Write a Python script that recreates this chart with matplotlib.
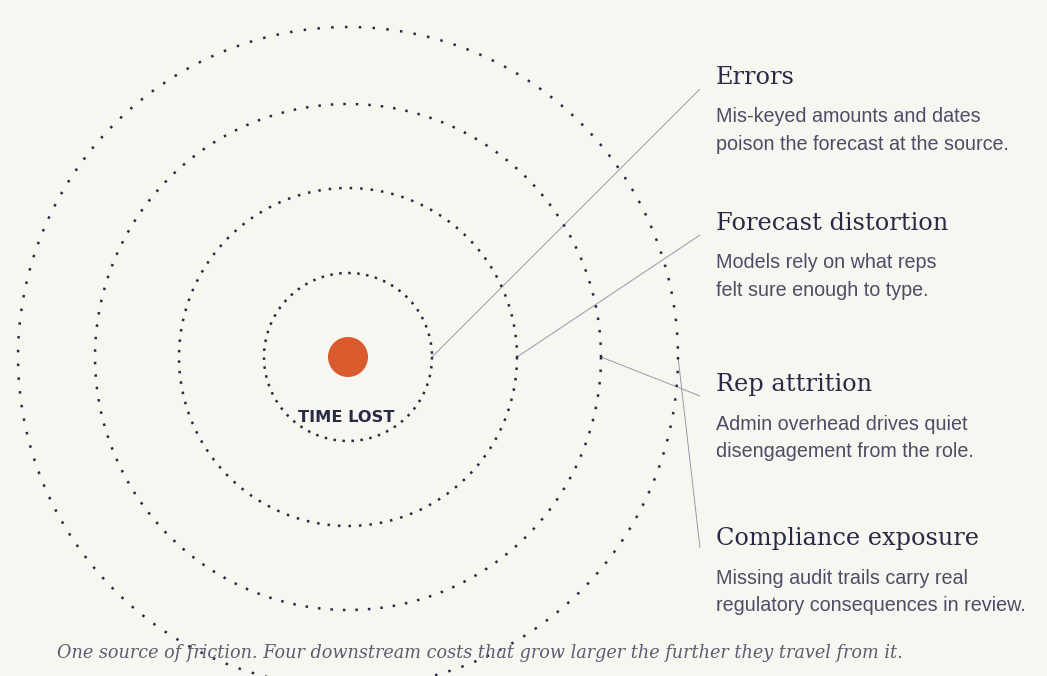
import matplotlib
matplotlib.use("Agg")
import matplotlib.pyplot as plt
from matplotlib.patches import Circle
import numpy as np

# ---------------- data ----------------
titles = ["Errors", "Forecast distortion", "Rep attrition", "Compliance exposure"]
desc_line1 = ["Mis-keyed amounts and dates",
              "Models rely on what reps",
              "Admin overhead drives quiet",
              "Missing audit trails carry real"]
desc_line2 = ["poison the forecast at the source.",
              "felt sure enough to type.",
              "disengagement from the role.",
              "regulatory consequences in review."]
ring_levels = [1, 2, 3, 4]
center_label = "TIME LOST"
caption = ("One source of friction. Four downstream costs that grow larger "
           "the further they travel from it.")

# ---------------- style / layout ----------------
W, H = 1047, 676
BG = "#f8f6f0"
NAVY = "#272a45"
DESC = "#4b4e66"
CAP = "#5b5e72"
ORANGE = "#d95a2c"
LEADER = "#8e93aa"
PX = 0.72  # points per pixel at dpi=100

cx, cy = 348, 357
ring_radii = [84, 169, 253, 330]
dot_spacing = [9.0, 10.5, 12.5, 13.8]
text_x = 716
title_y = [77, 223, 384, 538]
leader_end_y = [89, 235, 396, 548]

plt.rcParams["lines.scale_dashes"] = False

fig = plt.figure(figsize=(W / 100, H / 100), dpi=100)
fig.patch.set_facecolor(BG)
ax = fig.add_axes([0, 0, 1, 1])
ax.set_facecolor(BG)
ax.set_xlim(0, W)
ax.set_ylim(H, 0)
ax.axis("off")

theta = np.linspace(0, 2 * np.pi, 2000)
dot = 2.5
for lvl, r, sp in zip(ring_levels, ring_radii, dot_spacing):
    ax.plot(cx + r * np.cos(theta), cy + r * np.sin(theta),
            color=NAVY, lw=dot * PX,
            linestyle=(0, (dot * PX, (sp - dot) * PX)),
            dash_capstyle="butt", zorder=2)

ax.add_patch(Circle((cx, cy), 20, facecolor=ORANGE, edgecolor="none", zorder=3))
ax.text(cx - 2, cy + 60, center_label, ha="center", va="center",
        fontsize=16.2 * PX, fontweight="heavy", color=NAVY,
        family=["DejaVu Sans"], zorder=4)

for i, (t, d1, d2) in enumerate(zip(titles, desc_line1, desc_line2)):
    r = ring_radii[i]
    ax.plot([cx + r, 700], [cy, leader_end_y[i]], color=LEADER, lw=0.9 * PX,
            solid_capstyle="butt", zorder=1)
    ax.text(text_x, title_y[i], t, ha="left", va="center",
            fontsize=24 * PX, family=["DejaVu Serif"], color=NAVY)
    ax.text(text_x, title_y[i] + 40, d1, ha="left", va="center",
            fontsize=19.8 * PX, family=["Liberation Sans", "DejaVu Sans"], color=DESC)
    ax.text(text_x, title_y[i] + 67.5, d2, ha="left", va="center",
            fontsize=19.8 * PX, family=["Liberation Sans", "DejaVu Sans"], color=DESC)

ax.text(57, 653, caption, ha="left", va="center", fontsize=17.6 * PX,
        family=["DejaVu Serif"], style="italic", color=CAP, zorder=5)

fig.savefig("out.png", dpi=100, facecolor=BG)
